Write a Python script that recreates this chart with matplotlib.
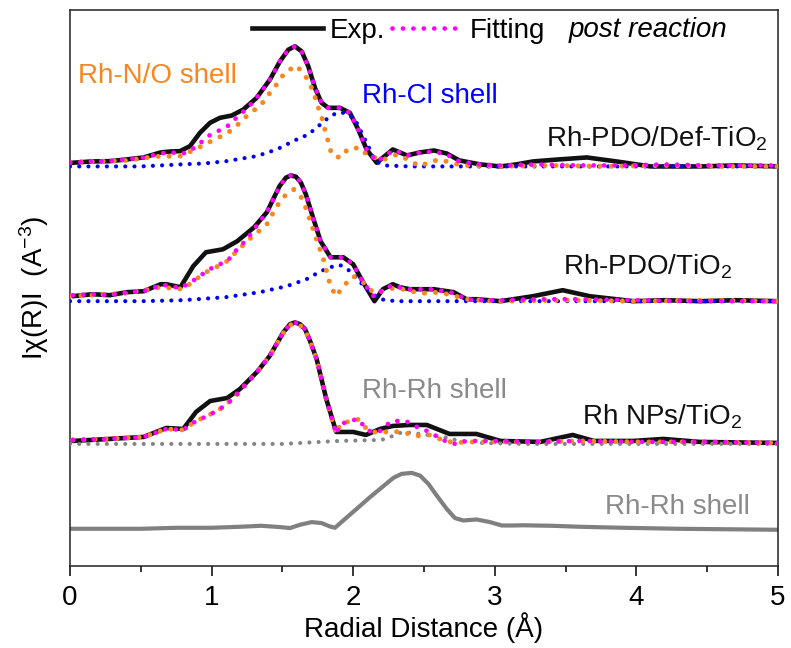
#!/usr/bin/env python3
"""Stacked FT-EXAFS |chi(R)| of Rh catalysts after reaction, with shell fits."""
import numpy as np
import matplotlib

matplotlib.use("Agg")
import matplotlib.pyplot as plt  # noqa: E402
from matplotlib.lines import Line2D  # noqa: E402

# ---- data (intensity above each curve's own baseline, arb. units) ----
# Rh-PDO/Def-TiO2
r_def_exp = [0.0, 0.15, 0.28, 0.40, 0.52, 0.64, 0.71, 0.777, 0.847, 0.918, 0.989, 1.059, 1.142,
             1.224, 1.318, 1.412, 1.483, 1.542, 1.589, 1.636, 1.683, 1.73, 1.777, 1.824, 1.907,
             1.977, 2.036, 2.095, 2.166, 2.22, 2.28, 2.33, 2.38, 2.47, 2.57, 2.66, 2.75, 2.90,
             3.04, 3.15, 3.27, 3.45, 3.65, 3.86, 4.10, 4.30, 4.45, 4.70, 5.0]
i_def_exp = [0.035, 0.05, 0.053, 0.07, 0.09, 0.14, 0.15, 0.153, 0.203, 0.337, 0.437, 0.487, 0.51,
             0.57, 0.687, 0.87, 1.053, 1.17, 1.203, 1.153, 1.003, 0.787, 0.637, 0.587, 0.587,
             0.537, 0.37, 0.17, 0.037, 0.10, 0.17, 0.14, 0.11, 0.14, 0.16, 0.13, 0.06, 0.02,
             0.0, 0.02, 0.05, 0.07, 0.09, 0.05, 0.0, 0.0, 0.0, 0.01, 0.0]
r_def_fit = [0.0, 0.15, 0.28, 0.40, 0.52, 0.64, 0.71, 0.80, 0.87, 0.91, 0.97, 1.04, 1.11, 1.20,
             1.25, 1.318, 1.412, 1.483, 1.542, 1.589, 1.636, 1.683, 1.73, 1.777, 1.824, 1.907,
             1.977, 2.036, 2.095, 2.166, 2.22, 2.28, 2.33, 2.38, 2.47, 2.57, 2.66, 2.75, 2.90,
             3.04, 3.30, 3.60, 3.90, 4.20, 4.50, 4.80, 5.0]
i_def_fit = [0.04, 0.05, 0.055, 0.07, 0.09, 0.13, 0.14, 0.13, 0.18, 0.22, 0.30, 0.35, 0.40, 0.52,
             0.58, 0.687, 0.87, 1.053, 1.17, 1.203, 1.153, 1.003, 0.787, 0.637, 0.587, 0.587,
             0.537, 0.37, 0.17, 0.05, 0.10, 0.16, 0.14, 0.11, 0.14, 0.15, 0.12, 0.05, 0.02,
             0.01, 0.02, 0.01, 0.01, 0.02, 0.01, 0.01, 0.01]
r_def_no = [0.0, 0.20, 0.40, 0.60, 0.777, 0.883, 0.965, 1.047, 1.13, 1.20, 1.271, 1.342, 1.412,
            1.471, 1.518, 1.601, 1.671, 1.718, 1.742, 1.777, 1.80, 1.848, 1.907, 1.965, 2.048,
            2.095, 2.20, 2.31, 2.40, 2.47, 2.55, 2.62, 2.70, 2.80, 3.00, 3.40, 3.80, 4.20, 4.60,
            5.0]
i_def_no = [0.04, 0.05, 0.06, 0.10, 0.103, 0.17, 0.23, 0.287, 0.353, 0.437, 0.537, 0.603, 0.737,
            0.843, 0.943, 1.01, 0.887, 0.753, 0.637, 0.497, 0.37, 0.12, 0.087, 0.177, 0.187,
            0.12, 0.06, 0.12, 0.06, 0.0, 0.05, 0.07, 0.03, 0.01, 0.0, 0.01, 0.0, 0.01, 0.0, 0.0]
r_def_cl = [0.0, 0.50, 0.777, 0.95, 1.106, 1.177, 1.248, 1.318, 1.39, 1.46, 1.53, 1.601, 1.683,
            1.754, 1.824, 1.883, 1.954, 2.013, 2.06, 2.107, 2.154, 2.22, 2.40, 3.00, 4.00, 5.0]
i_def_cl = [0.0, 0.0, 0.02, 0.03, 0.053, 0.07, 0.087, 0.103, 0.137, 0.17, 0.22, 0.27, 0.32,
            0.403, 0.487, 0.537, 0.537, 0.47, 0.337, 0.203, 0.053, 0.01, 0.0, 0.0, 0.0, 0.0]

# Rh-PDO/TiO2
r_pdo_exp = [0.02, 0.16, 0.28, 0.40, 0.52, 0.64, 0.68, 0.78, 0.87, 0.96, 1.08, 1.18, 1.30, 1.39,
             1.48, 1.525, 1.56, 1.596, 1.631, 1.666, 1.713, 1.77, 1.84, 1.93, 2.00, 2.07, 2.15,
             2.21, 2.28, 2.33, 2.40, 2.57, 2.71, 2.80, 2.87, 3.04, 3.27, 3.48, 3.67, 3.98, 4.20,
             4.45, 4.70, 5.0]
i_pdo_exp = [0.05, 0.07, 0.06, 0.09, 0.10, 0.17, 0.17, 0.14, 0.35, 0.49, 0.52, 0.60, 0.74, 0.89,
             1.153, 1.237, 1.26, 1.247, 1.187, 1.07, 0.853, 0.60, 0.44, 0.44, 0.37, 0.19, 0.0,
             0.12, 0.17, 0.14, 0.12, 0.12, 0.09, 0.02, 0.02, 0.0, 0.05, 0.11, 0.05, 0.0, 0.01,
             0.0, 0.01, 0.0]
r_pdo_fit = [0.02, 0.16, 0.28, 0.40, 0.52, 0.64, 0.68, 0.78, 0.91, 0.96, 1.04, 1.11, 1.18, 1.25,
             1.30, 1.39, 1.48, 1.525, 1.56, 1.596, 1.631, 1.666, 1.713, 1.77, 1.84, 1.93, 2.00,
             2.07, 2.15, 2.21, 2.28, 2.33, 2.40, 2.57, 2.71, 2.80, 2.87, 3.04, 3.30, 3.60, 3.98,
             4.45, 5.0]
i_pdo_fit = [0.06, 0.07, 0.06, 0.09, 0.10, 0.16, 0.16, 0.13, 0.24, 0.30, 0.36, 0.40, 0.52, 0.62,
             0.72, 0.89, 1.153, 1.237, 1.26, 1.247, 1.187, 1.07, 0.853, 0.60, 0.44, 0.44, 0.37,
             0.19, 0.04, 0.12, 0.16, 0.14, 0.12, 0.12, 0.08, 0.02, 0.01, 0.01, 0.02, 0.02, 0.01,
             0.0, 0.0]
r_pdo_no = [0.0, 0.40, 0.64, 0.80, 0.87, 0.96, 1.10, 1.25, 1.39, 1.46, 1.52, 1.58, 1.63, 1.67,
            1.74, 1.79, 1.84, 1.88, 1.93, 2.00, 2.07, 2.14, 2.22, 2.30, 2.40, 2.50, 2.60, 2.70,
            2.80, 3.00, 3.50, 4.00, 4.50, 5.0]
i_pdo_no = [0.05, 0.08, 0.14, 0.12, 0.20, 0.29, 0.39, 0.60, 0.77, 0.95, 1.06, 1.12, 1.05, 0.92,
            0.62, 0.42, 0.15, 0.05, 0.15, 0.25, 0.19, 0.09, 0.10, 0.14, 0.10, 0.08, 0.09, 0.06,
            0.02, 0.0, 0.01, 0.0, 0.01, 0.0]
r_pdo_cl = [0.0, 0.50, 0.80, 1.10, 1.34, 1.53, 1.67, 1.77, 1.86, 1.91, 1.98, 2.05, 2.12, 2.19,
            2.30, 3.00, 4.00, 5.0]
i_pdo_cl = [0.0, 0.0, 0.01, 0.04, 0.09, 0.15, 0.22, 0.30, 0.35, 0.36, 0.30, 0.19, 0.09, 0.02,
            0.0, 0.0, 0.0, 0.0]

# Rh NPs/TiO2
r_nps_exp = [0.02, 0.28, 0.52, 0.68, 0.80, 0.89, 0.99, 1.11, 1.20, 1.32, 1.41, 1.506, 1.554,
             1.589, 1.624, 1.66, 1.695, 1.742, 1.81, 1.88, 2.00, 2.09, 2.19, 2.28, 2.40, 2.52,
             2.68, 2.87, 3.04, 3.32, 3.55, 3.70, 3.98, 4.19, 4.45, 5.0]
i_nps_exp = [0.02, 0.04, 0.06, 0.15, 0.14, 0.31, 0.42, 0.45, 0.54, 0.71, 0.87, 1.107, 1.19,
             1.207, 1.19, 1.14, 1.023, 0.84, 0.44, 0.11, 0.11, 0.08, 0.14, 0.17, 0.18, 0.18,
             0.09, 0.09, 0.02, 0.01, 0.08, 0.02, 0.02, 0.04, 0.01, 0.0]
r_nps_fit = [0.02, 0.28, 0.52, 0.68, 0.80, 0.89, 0.97, 1.06, 1.15, 1.20, 1.32, 1.41, 1.506,
             1.554, 1.589, 1.624, 1.66, 1.695, 1.742, 1.81, 1.88, 1.91, 2.03, 2.11, 2.19, 2.27,
             2.37, 2.45, 2.54, 2.63, 2.72, 2.80, 3.00, 3.30, 3.60, 4.00, 4.50, 5.0]
i_nps_fit = [0.03, 0.04, 0.06, 0.14, 0.13, 0.22, 0.27, 0.34, 0.44, 0.52, 0.71, 0.87, 1.107,
             1.19, 1.207, 1.19, 1.14, 1.023, 0.84, 0.44, 0.09, 0.19, 0.24, 0.12, 0.12, 0.22,
             0.22, 0.16, 0.11, 0.03, -0.01, 0.02, 0.02, 0.01, 0.02, 0.01, 0.01, 0.0]
r_nps_no = [0.02, 0.28, 0.52, 0.68, 0.80, 0.89, 0.97, 1.06, 1.15, 1.20, 1.32, 1.41, 1.506,
            1.554, 1.589, 1.624, 1.66, 1.695, 1.742, 1.81, 1.88, 1.91, 2.03, 2.11, 2.19, 2.27,
            2.37, 2.45, 2.54, 2.63, 2.72, 2.80, 3.00, 3.30, 3.60, 4.00, 4.50, 5.0]
i_nps_no = [0.03, 0.04, 0.06, 0.14, 0.13, 0.22, 0.27, 0.34, 0.44, 0.52, 0.71, 0.87, 1.10,
            1.18, 1.20, 1.18, 1.13, 1.02, 0.84, 0.44, 0.09, 0.19, 0.24, 0.12, 0.10, 0.12,
            0.10, 0.07, 0.08, 0.03, 0.0, 0.01, 0.01, 0.01, 0.02, 0.01, 0.01, 0.0]
r_nps_rh = [0.0, 1.50, 1.90, 2.20, 2.28, 2.35, 2.47, 2.64, 2.75, 2.90, 3.20, 5.0]
i_nps_rh = [-0.01, -0.01, 0.02, 0.03, 0.07, 0.11, 0.09, 0.06, 0.02, 0.0, -0.01, -0.01]

# Rh-Rh shell reference (bottom)
r_ref = [0.0, 0.50, 0.76, 1.00, 1.20, 1.35, 1.483, 1.554, 1.624, 1.707, 1.777, 1.836, 1.871,
         1.93, 2.025, 2.119, 2.213, 2.284, 2.342, 2.413, 2.472, 2.531, 2.59, 2.66, 2.719, 2.778,
         2.872, 2.966, 3.049, 3.13, 3.20, 3.40, 3.60, 3.90, 4.30, 5.0]
i_ref = [0.0, 0.0, 0.01, 0.01, 0.02, 0.03, 0.017, 0.007, 0.04, 0.067, 0.057, 0.023, 0.01,
         0.083, 0.20, 0.317, 0.427, 0.51, 0.55, 0.56, 0.533, 0.45, 0.333, 0.20, 0.107, 0.083,
         0.093, 0.067, 0.033, 0.033, 0.035, 0.03, 0.02, 0.01, 0.0, -0.01]

OFFSETS = {"def": 4.00, "pdo": 2.65, "nps": 1.23, "ref": 0.37}

INK = "#111111"
MAGENTA = "#ff00ff"
ORANGE = "#f7871e"
BLUE = "#0000ff"
GREY = "#858585"

plt.rcParams.update({
    "font.family": ["Liberation Sans", "DejaVu Sans"],
    "font.size": 20,
    "mathtext.fontset": "custom",
    "mathtext.rm": "Liberation Sans",
    "mathtext.it": "Liberation Sans:italic",
    "axes.linewidth": 1.1,
    "axes.edgecolor": "#222222",
})

DOTS = dict(linestyle=(0, (0.01, 2.2)), dash_capstyle="round")

fig = plt.figure(figsize=(7.91, 6.48), dpi=100)
ax = fig.add_axes([0.0885, 0.127, 0.895, 0.858])


def stack(r, i, key):
    return np.asarray(r), np.asarray(i) + OFFSETS[key]


# black experimental curves first, components + fit on top
for r, i, key in [(r_def_exp, i_def_exp, "def"), (r_pdo_exp, i_pdo_exp, "pdo"),
                  (r_nps_exp, i_nps_exp, "nps")]:
    ax.plot(*stack(r, i, key), color=INK, lw=3.3, solid_capstyle="round",
            solid_joinstyle="round", zorder=2)

ax.plot(*stack(r_def_cl, i_def_cl, "def"), color=BLUE, lw=3.0, zorder=3, **DOTS)
ax.plot(*stack(r_pdo_cl, i_pdo_cl, "pdo"), color=BLUE, lw=3.0, zorder=3, **DOTS)
ax.plot(*stack(r_nps_rh, i_nps_rh, "nps"), color=GREY, lw=3.0, zorder=3, **DOTS)
ax.plot(*stack(r_def_no, i_def_no, "def"), color=ORANGE, lw=3.6, zorder=3, **DOTS)
ax.plot(*stack(r_pdo_no, i_pdo_no, "pdo"), color=ORANGE, lw=3.6, zorder=3, **DOTS)
ax.plot(*stack(r_nps_no, i_nps_no, "nps"), color=ORANGE, lw=3.6, zorder=3, **DOTS)
for r, i, key in [(r_def_fit, i_def_fit, "def"), (r_pdo_fit, i_pdo_fit, "pdo"),
                  (r_nps_fit, i_nps_fit, "nps")]:
    ax.plot(*stack(r, i, key), color=MAGENTA, lw=3.4, zorder=4, **DOTS)

ax.plot(*stack(r_ref, i_ref, "ref"), color="#808080", lw=3.0, solid_joinstyle="round", zorder=2)

# annotations
ax.text(0.056, 4.91, "Rh-N/O shell", color=ORANGE, va="center", ha="left")
ax.text(2.06, 4.71, "Rh-Cl shell", color=BLUE, va="center", ha="left")
ax.text(4.93, 4.28, "Rh-PDO/Def-TiO$_2$", color=INK, va="center", ha="right")
ax.text(4.68, 3.00, "Rh-PDO/TiO$_2$", color=INK, va="center", ha="right")
ax.text(4.75, 1.49, "Rh NPs/TiO$_2$", color=INK, va="center", ha="right")
ax.text(2.06, 1.75, "Rh-Rh shell", color="#8a8a8a", va="center", ha="left")
ax.text(4.80, 0.59, "Rh-Rh shell", color="#8a8a8a", va="center", ha="right")

handles = [Line2D([], [], color=INK, lw=3.3),
           Line2D([], [], color=MAGENTA, lw=3.4, **DOTS)]
ax.legend(handles, ["Exp.", "Fitting"], ncol=2, frameon=False, loc="center left",
          bbox_to_anchor=(0.257, 0.962), borderpad=0, borderaxespad=0,
          handlelength=2.55, handletextpad=0.25, columnspacing=0.25)
ax.text(3.52, 5.37, "post reaction", style="italic", va="center", ha="left")

ax.set_xlim(0, 5)
ax.set_ylim(0, 5.57)
ax.set_xticks(np.arange(0, 6, 1))
ax.set_xticks(np.arange(0.5, 5, 1), minor=True)
ax.tick_params(axis="x", which="major", direction="out", length=7, width=1.1, pad=7)
ax.tick_params(axis="x", which="minor", direction="out", length=4, width=1.1)
ax.set_yticks([])
ax.set_xlabel("Radial Distance (Å)", labelpad=1)
ax.set_ylabel("Iχ(R)I  (A$^{-3}$)", labelpad=14)

fig.savefig("out.png", dpi=100)
